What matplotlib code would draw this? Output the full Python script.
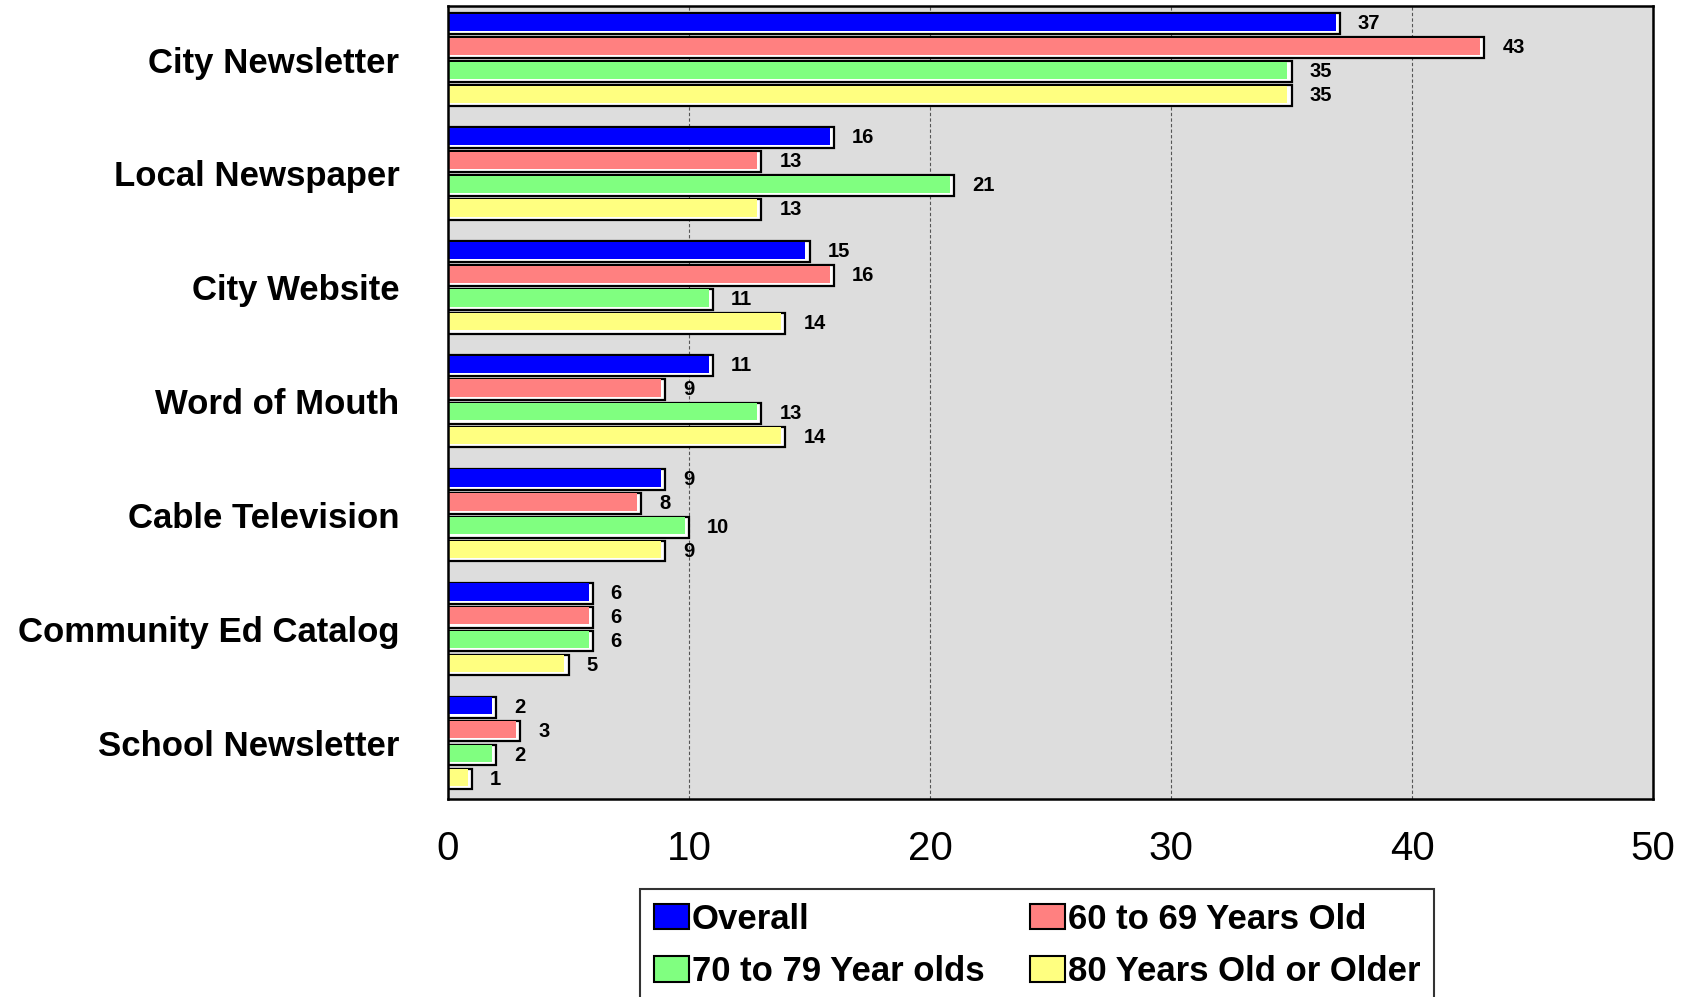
import matplotlib
matplotlib.use("Agg")
import matplotlib.pyplot as plt
from matplotlib.patches import Patch
from matplotlib import font_manager

categories = ["City Newsletter", "Local Newspaper", "City Website", "Word of Mouth",
              "Cable Television", "Community Ed Catalog", "School Newsletter"]
series_names = ["Overall", "60 to 69 Years Old", "70 to 79 Year olds", "80 Years Old or Older"]
overall = [37, 16, 15, 11, 9, 6, 2]
age_60_69 = [43, 13, 16, 9, 8, 6, 3]
age_70_79 = [35, 21, 11, 13, 10, 6, 2]
age_80_plus = [35, 13, 14, 14, 9, 5, 1]
x_ticks = [0, 10, 20, 30, 40, 50]

series = [overall, age_60_69, age_70_79, age_80_plus]
colors = ["#0000FF", "#FF8080", "#80FF80", "#FFFF80"]

names = {f.name for f in font_manager.fontManager.ttflist}
narrow = "Liberation Sans Narrow" if "Liberation Sans Narrow" in names else "Liberation Sans"

plt.rcParams['font.family'] = ['Liberation Sans', 'DejaVu Sans']

fig = plt.figure(figsize=(16.94, 9.97), dpi=100)
ax = fig.add_axes([0.2645, 0.1986, 0.7113, 0.7954])
ax.set_facecolor("#DDDDDD")

pitch = 0.21
h = 0.18
for k, (vals, c) in enumerate(zip(series, colors)):
    ys = [i + (k - 1.5) * pitch for i in range(len(categories))]
    ax.barh(ys, vals, height=h, color="white", edgecolor="black", linewidth=1.6, zorder=3)
    ax.barh([y - 0.012 for y in ys], [v - 0.17 for v in vals], height=h - 0.03,
            color=c, linewidth=0, zorder=4)
    for y, v in zip(ys, vals):
        ax.annotate(str(v), (v, y), xytext=(13, 0), textcoords="offset points",
                    ha="left", va="center", fontsize=14.5, fontweight="bold", zorder=5)

ax.set_xlim(0, 50)
ax.set_ylim(6.49, -0.47)
ax.set_xticks(x_ticks)
ax.set_xticklabels([str(t) for t in x_ticks], fontsize=29)
ax.set_yticks(range(len(categories)))
ax.set_yticklabels(categories, fontsize=25, fontweight="bold")
ax.tick_params(axis="x", length=0, pad=22)
ax.tick_params(axis="y", length=0, pad=35)
ax.xaxis.grid(True, linestyle=(0, (3, 2)), color="#555555", linewidth=0.8, zorder=0)
ax.set_axisbelow(True)
for s in ax.spines.values():
    s.set_linewidth(1.8)
    s.set_color("black")
    s.set_zorder(6)

handles = [Patch(facecolor=c, edgecolor="black", linewidth=1.5) for c in colors]
# legend fills column-major; reorder so rows read Overall, 60-69 / 70-79, 80+
order = [0, 2, 1, 3]
leg = fig.legend([handles[i] for i in order], [series_names[i] for i in order],
                 loc="upper left",
                 bbox_to_anchor=(640 / 1694, 1 - 889 / 997), ncol=2,
                 prop={"family": narrow, "weight": "bold", "size": 25},
                 frameon=True, fancybox=False, edgecolor="black",
                 handlelength=1.0, handleheight=0.75, handletextpad=0.1,
                 columnspacing=1.3, labelspacing=0.55, borderpad=0.4,
                 borderaxespad=0)
leg.get_frame().set_linewidth(1.5)

fig.savefig("out.png", dpi=100)
